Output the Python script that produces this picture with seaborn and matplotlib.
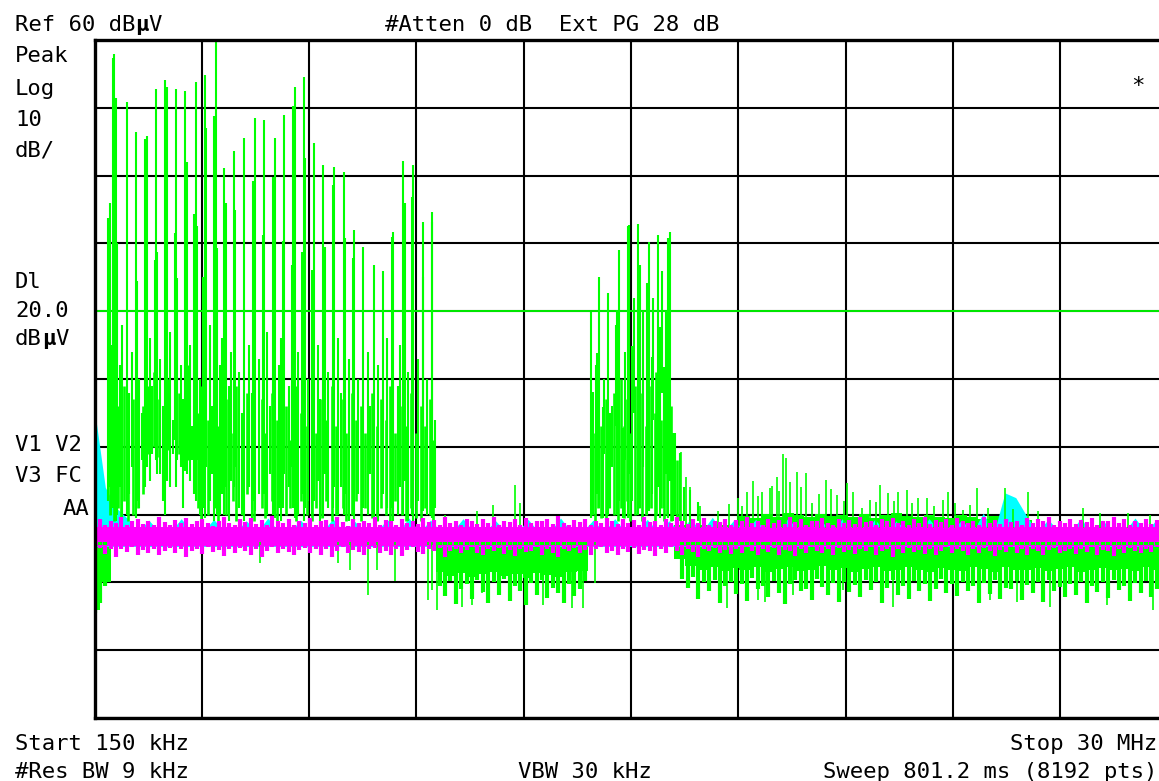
import matplotlib
matplotlib.use("Agg")
import matplotlib.pyplot as plt
import numpy as np
import seaborn as sns

# sweep settings
START_MHZ = 0.15
STOP_MHZ = 30.0
REF_DB = 60
BOTTOM_DB = -40
DL_DB = 20.0

# main harmonic spikes of the left cluster (MHz, top dBuV, bottom dBuV)
spike_freq = [0.656, 0.701, 0.748, 1.046, 1.305, 1.555, 1.602, 1.853, 2.111, 2.159,
              2.417, 2.668, 2.974, 3.224, 3.252, 3.474, 3.522, 3.761, 4.031, 4.317,
              4.615, 4.865, 5.171, 5.430, 5.681, 5.720, 5.970, 6.265, 6.515, 6.821,
              7.091, 7.378, 7.628, 7.926, 8.184, 8.454, 8.741, 9.019, 9.289, 9.547]
spike_top = [57.3, 58.0, 51.4, 50.9, 46.4, 45.4, 45.8, 52.7, 54.1, 53.0,
             52.7, 52.5, 53.8, 54.8, 47.0, 48.8, 60.0, 41.1, 43.7, 45.6,
             48.5, 48.2, 45.6, 49.0, 50.3, 53.0, 54.6, 44.8, 41.6, 41.2,
             40.5, 32.0, 29.5, 26.8, 26.0, 31.7, 42.1, 41.6, 33.1, 34.6]
spike_bot = [-9.0, -4.0, -11.0, -10.0, -10.5, -6.0, -3.0, -2.0, -10.0, -5.0,
             -6.0, -3.5, -8.0, -10.5, -3.0, -11.0, -9.0, -10.0, -6.0, -11.0,
             -9.5, -7.0, -10.5, -4.0, -9.0, -10.5, -11.0, -8.0, -10.5, -6.0,
             -10.0, -11.0, -9.0, -10.5, -7.0, -11.0, -10.0, -11.0, -9.5, -10.5]

# secondary lines next to each harmonic
second_freq = [0.534, 0.581, 0.768, 1.324, 1.833, 1.880, 2.390, 2.454, 2.715, 2.918,
               2.993, 3.160, 3.550, 3.808, 4.060, 4.568, 4.829, 5.124, 5.402, 5.653,
               6.006, 5.930, 6.193, 6.562, 6.793, 7.119, 7.350, 8.418, 8.788, 8.974,
               9.297, 9.531]
second_top = [33.7, 36.0, 30.1, 24.4, 27.6, 28.8, 31.5, 24.9, 42.0, 34.3,
              32.5, 25.1, 29.3, 35.9, 34.9, 39.2, 31.2, 39.8, 30.3, 26.8,
              42.6, 28.8, 26.1, 29.5, 38.6, 30.8, 27.8, 31.0, 36.0, 36.9,
              25.1, 33.2]
second_bot = [-8.0, -6.0, -10.0, -8.0, 0.0, -4.0, 1.0, -2.0, -4.0, -7.0,
              -2.0, -9.0, -10.0, -6.0, -3.0, -8.0, -5.0, -10.0, -9.0, -3.0,
              -9.0, -7.0, -10.0, -4.0, -9.0, -7.0, -3.0, -9.0, -5.0, -10.0,
              -6.0, -8.0]

# lines between harmonics, reaching up to the 0..20 dBuV band
low_freq = [0.62, 0.85, 0.92, 1.12, 1.18, 1.40, 1.46, 1.70, 1.76, 1.98,
            2.05, 2.25, 2.32, 2.55, 2.60, 2.80, 2.86, 3.08, 3.35, 3.42,
            3.64, 3.70, 3.90, 3.96, 4.18, 4.24, 4.45, 4.52, 4.72, 4.95,
            5.02, 5.28, 5.34, 5.55, 5.82, 6.10, 6.36, 6.42, 6.65, 6.92,
            7.00, 7.22, 7.48, 7.75, 7.82, 8.05, 8.30, 8.60, 8.66, 8.88,
            9.15, 9.40, 9.62]
low_top = [15, 12, 18, 8, 14, 10, 5, 16, 9, 13,
           6, 17, 4, 12, 7, 15, 3, 10, 18, 6,
           12, 16, 9, 14, 11, 5, 15, 8, 13, 17,
           6, 12, 16, 9, 14, 10, 15, 7, 11, 16,
           8, 13, 10, 14, 6, 12, 16, 9, 15, 11,
           13, 10, 4]
low_bot = [-10, -6, -11, -7, -3, -9, -2, -5, -1, -4,
           -8, -6, -1, -3, -9, -5, -2, -10, -8, -4,
           -10, -7, -11, -5, -9, -10, -6, -11, -7, -10,
           -4, -9, -11, -6, -10, -8, -5, -11, -9, -10,
           -6, -11, -7, -10, -4, -11, -9, -10, -6, -11,
           -8, -10, -9]

# short lines near the noise floor that make the dense lower body of both clusters
base_freq = [0.59, 0.68, 0.80, 0.88, 0.98, 1.08, 1.22, 1.35, 1.50, 1.65,
             1.80, 1.95, 2.20, 2.50, 2.75, 3.02, 3.12, 3.30, 3.48, 3.58,
             3.82, 4.00, 4.10, 4.28, 4.38, 4.60, 4.80, 4.90, 5.10, 5.22,
             5.48, 5.60, 5.76, 5.90, 6.05, 6.20, 6.30, 6.48, 6.58, 6.75,
             6.86, 7.05, 7.15, 7.30, 7.42, 7.55, 7.68, 7.88, 8.00, 8.12,
             8.25, 8.38, 8.52, 8.70, 8.82, 8.95, 9.08, 9.22, 9.35, 9.48,
             9.58, 13.98, 14.06, 14.16, 14.24, 14.38, 14.47, 14.60, 14.70, 14.80,
             14.89, 14.97, 15.06, 15.20, 15.30, 15.37, 15.48, 15.62, 15.74, 15.78,
             15.90, 16.00, 16.08, 16.20, 16.35]
base_top = [8, 4, 6, 2, 9, 3, 7, 1, 6, 9,
            11, 7, 10, 8, 12, 5, 9, 4, 8, 3,
            7, 2, 9, 4, 8, 3, 7, 2, 8, 4,
            6, 1, 9, 5, 3, 8, 2, 7, 4, 9,
            3, 7, 2, 8, 4, 6, 2, 8, 3, 7,
            4, 9, 2, 6, 3, 8, 2, 6, 3, 7,
            1, 6, 2, 9, 3, 7, 1, 8, 4, 10,
            3, 7, 2, 9, 4, 8, 3, 9, 5, 11,
            4, 8, 2, 6, -2]
base_bot = [-10, -11, -9, -10.5, -8, -11, -10, -9, -7, -1,
            0, -1.5, -0.5, -1, -2, -9, -11, -10, -9, -11,
            -10, -8, -11, -10, -7, -11, -9, -10.5, -8, -11,
            -10, -9, -11, -8, -10, -11, -9, -10.5, -8, -11,
            -10, -9, -11, -10, -8, -11, -9, -10.5, -11, -9,
            -10, -11, -8, -10, -11, -9, -10.5, -11, -9, -10,
            -11, -10, -11, -9, -10.5, -11, -9, -10, -11, -9,
            -10.5, -8, -11, -10, -9, -11, -10, -9, -11, -10,
            -9, -11, -10, -11, -11]

# middle cluster around 14-16 MHz
mid_freq = [13.954, 14.193, 14.444, 14.750, 15.000, 15.028, 15.278, 15.584, 15.835, 16.113,
            16.160, 14.026, 14.137, 14.287, 14.490, 14.694, 14.861, 15.095, 15.326, 15.529,
            15.652, 15.881, 15.993, 14.10, 14.33, 14.55, 14.65, 14.92, 15.15, 15.42,
            15.70, 15.95, 16.05, 16.235, 16.299, 16.438, 16.549, 16.716, 16.947]
mid_top = [19.9, 25.1, 22.7, 29.0, 32.5, 32.7, 32.9, 30.2, 31.2, 30.8,
           31.7, 8.1, 13.8, 5.9, 5.0, 20.2, 2.8, 14.8, 26.8, 24.2,
           13.3, 17.7, 11.8, 12.0, 10.0, 6.0, 18.0, 14.0, 22.0, 20.0,
           22.0, 26.0, 20.0, 2.0, 2.0, -0.9, -5.9, -6.4, -8.1]
mid_bot = [-10.5, -9.0, -10.0, -8.0, -10.5, -4.0, -10.0, -9.5, -6.0, -10.5,
           -5.0, -10.0, -7.0, -10.5, -9.0, -10.0, -10.5, -8.0, -9.0, -10.0,
           -7.0, -10.5, -9.0, -2.0, -1.0, -3.0, 3.0, -2.0, 5.0, -3.0,
           4.0, 8.0, -4.0, -11.0, -10.0, -11.0, -11.0, -11.0, -11.0]

# small green peaks sticking out of the noise floor
bump_freq = [9.90, 10.80, 11.236, 11.848, 11.987, 16.47, 16.60, 16.72, 16.99, 17.50,
             17.80, 18.05, 18.15, 18.29, 18.48, 18.60, 18.71, 18.94, 19.00, 19.13,
             19.20, 19.31, 19.39, 19.50, 19.68, 19.80, 19.94, 20.11, 20.30, 20.50,
             20.65, 20.80, 21.00, 21.08, 21.26, 21.49, 21.72, 21.90, 22.00, 22.23,
             22.40, 22.51, 22.75, 22.90, 23.07, 23.30, 23.50, 23.76, 23.90, 24.09,
             24.32, 24.50, 24.69, 25.00, 25.48, 25.70, 26.13, 26.40, 27.65, 28.12,
             28.90, 29.50]
bump_top = [-10.0, -9.5, -8.6, -5.6, -8.3, -0.7, -4.5, -5.9, -8.8, -9.5,
            -8.5, -7.5, -8.8, -6.6, -5.1, -7.2, -6.6, -6.1, -5.8, -4.4,
            -6.5, -1.0, -1.7, -5.2, -3.7, -6.0, -3.9, -8.3, -7.0, -4.9,
            -6.2, -7.1, -8.0, -5.4, -6.6, -9.0, -7.8, -8.2, -5.6, -6.8,
            -8.0, -6.6, -6.4, -8.3, -7.6, -7.5, -8.8, -7.8, -6.6, -8.3,
            -9.3, -8.6, -6.1, -9.0, -6.1, -9.2, -6.6, -9.5, -9.0, -9.8,
            -9.8, -10.0]

# deeper green dips below the noise floor
dip_freq = [4.753, 6.923, 7.258, 7.758, 8.009, 8.510, 9.428, 9.539, 9.678, 10.374,
            10.652, 10.930, 12.627, 13.434, 13.740, 14.074, 17.745, 18.608, 18.802, 19.581,
            20.972, 22.363, 22.836, 25.061, 25.813, 26.731, 28.317, 29.596]
dip_bot = [-17.1, -17.1, -18.2, -21.9, -18.2, -19.8, -22.6, -21.1, -24.1, -23.6,
           -23.3, -21.6, -23.3, -23.8, -23.8, -20.1, -23.8, -22.6, -22.9, -21.9,
           -21.1, -23.6, -22.3, -22.6, -22.9, -23.6, -23.3, -24.1]

# coarse envelopes, one value per sweep segment (100 segments)
cyan_hi = [5.5, -6.0, -9.0, -10.5, -12.6, -10.8, -12.6, -12.6, -10.6, -12.6,
           -12.6, -10.7, -12.6, -12.6, -10.9, -12.6, -10.5, -12.6, -12.6, -10.8,
           -12.6, -12.6, -10.6, -12.6, -11.0, -12.6, -12.6, -10.7, -12.6, -10.5,
           -12.6, -10.8, -12.6, -12.6, -10.6, -12.6, -12.6, -10.9, -12.6, -12.6,
           -10.7, -12.6, -12.6, -10.5, -12.6, -12.6, -10.8, -12.6, -10.6, -12.6,
           -12.6, -10.7, -12.6, -10.9, -12.6, -10.6, -12.6, -10.4, -12.6, -10.8,
           -12.6, -10.7, -12.6, -12.6, -10.5, -12.6, -12.6, -10.8, -12.6, -10.6,
           -12.6, -12.6, -10.7, -12.6, -10.9, -12.6, -12.6, -10.6, -12.6, -12.6,
           -10.8, -12.6, -9.8, -12.6, -6.8, -7.5, -10.2, -12.6, -10.7, -12.6,
           -12.6, -10.6, -12.6, -10.8, -12.6, -12.6, -10.5, -12.6, -10.7, -12.6]
green_hi = [-13.0, -13.0, -13.0, -13.0, -13.0, -13.0, -13.0, -13.0, -13.0, -13.0,
            -13.0, -13.0, -13.0, -13.0, -13.0, -13.0, -13.0, -13.0, -13.0, -13.0,
            -13.0, -13.0, -13.0, -13.0, -13.0, -13.0, -13.0, -13.0, -13.0, -13.0,
            -13.0, -13.0, -12.5, -12.5, -12.5, -12.5, -12.5, -12.5, -12.5, -12.5,
            -12.5, -12.5, -12.5, -12.5, -12.5, -12.5, -13.0, -13.0, -13.0, -13.0,
            -13.0, -13.0, -13.0, -13.0, -11.5, -11.5, -11.5, -11.5, -11.5, -11.5,
            -10.2, -10.5, -9.9, -10.3, -9.8, -10.1, -10.4, -9.9, -10.2, -10.0,
            -10.3, -9.9, -10.5, -10.1, -9.8, -10.2, -10.4, -10.0, -10.3, -10.5,
            -10.1, -10.3, -10.6, -10.2, -10.4, -10.5, -10.8, -11.8, -11.8, -11.8,
            -11.8, -11.8, -11.8, -11.8, -11.8, -11.8, -11.8, -11.8, -11.8, -11.8]
green_lo = [-24.0, -20.0, -13.5, -13.5, -13.5, -13.5, -13.5, -13.5, -13.5, -13.5,
            -13.5, -13.5, -13.5, -13.5, -13.5, -13.5, -13.5, -13.5, -13.5, -13.5,
            -13.5, -13.5, -13.5, -13.5, -13.5, -13.5, -13.5, -13.5, -13.5, -13.5,
            -13.5, -13.5, -18.4, -19.0, -18.6, -19.2, -18.8, -18.5, -19.1, -18.7,
            -19.3, -18.6, -18.9, -19.2, -18.5, -18.3, -13.5, -13.5, -13.5, -13.5,
            -13.5, -13.5, -13.5, -13.5, -16.5, -17.6, -18.1, -17.8, -18.3, -17.9,
            -18.2, -17.7, -18.4, -18.0, -17.8, -18.3, -18.1, -17.6, -18.2, -17.9,
            -18.4, -18.0, -17.7, -18.3, -18.1, -17.8, -18.2, -18.5, -17.9, -18.1,
            -18.3, -17.8, -18.0, -18.4, -17.7, -18.2, -18.1, -17.9, -18.3, -18.0,
            -17.8, -18.4, -18.1, -17.9, -18.2, -18.0, -18.3, -17.8, -18.1, -18.2]

# fine detail, one value per half segment (200 points)
magenta_top = [-11.2, -10.6, -11.5, -10.9, -11.3, -10.4, -11.6, -11.0, -10.7, -11.4,
               -10.9, -11.5, -10.3, -11.1, -11.6, -10.8, -11.2, -10.5, -11.4, -11.0,
               -10.6, -11.3, -11.7, -10.9, -10.4, -11.2, -11.5, -10.7, -11.1, -10.5,
               -11.4, -10.8, -11.6, -10.2, -11.0, -11.3, -10.7, -11.5, -10.9, -11.2,
               -10.5, -11.6, -11.0, -10.8, -11.4, -10.3, -11.1, -11.7, -10.6, -11.3,
               -10.9, -11.2, -10.4, -11.5, -10.8, -11.0, -11.6, -10.6, -11.3, -10.9,
               -11.4, -10.5, -11.1, -10.8, -11.6, -10.3, -11.2, -10.9, -11.5, -10.7,
               -11.0, -11.4, -10.6, -11.2, -10.4, -11.5, -10.9, -11.1, -10.7, -11.6,
               -10.5, -11.3, -10.9, -11.0, -10.6, -11.4, -10.2, -11.2, -11.5, -10.8,
               -11.1, -10.6, -11.6, -10.9, -11.3, -10.5, -11.0, -11.4, -10.7, -11.2,
               -10.8, -11.5, -10.4, -11.1, -10.9, -11.6, -10.6, -11.3, -10.3, -11.0,
               -11.4, -10.7, -11.2, -10.5, -11.5, -10.9, -11.1, -10.6, -11.6, -10.8,
               -11.0, -10.4, -11.3, -10.9, -11.5, -10.6, -11.2, -10.8, -11.4, -10.3,
               -11.1, -10.7, -11.6, -10.9, -11.0, -10.5, -11.3, -11.5, -10.6, -11.2,
               -10.8, -11.4, -10.4, -11.1, -10.9, -11.6, -10.7, -11.0, -10.5, -11.3,
               -10.9, -11.5, -10.6, -11.2, -10.3, -11.4, -10.8, -11.1, -10.7, -11.6,
               -10.5, -11.0, -11.3, -10.9, -11.5, -10.4, -11.2, -10.8, -11.4, -10.6,
               -11.1, -10.9, -11.6, -10.5, -11.3, -10.7, -11.0, -10.3, -11.5, -10.9,
               -11.2, -10.6, -11.4, -10.8, -11.1, -10.5, -11.6, -10.9, -11.0, -10.4,
               -11.3, -10.7, -11.5, -10.9, -11.2, -10.6, -11.4, -10.8, -11.1, -10.5]
magenta_bottom = [-15.3, -14.9, -15.8, -15.1, -16.2, -15.0, -15.5, -14.8, -15.9, -15.2,
                  -15.6, -15.0, -16.0, -15.3, -14.9, -15.7, -15.1, -16.3, -15.4, -15.0,
                  -15.8, -14.8, -15.5, -15.2, -16.1, -15.0, -15.6, -14.9, -15.4, -15.9,
                  -15.1, -16.2, -15.3, -14.8, -15.7, -15.0, -15.5, -16.0, -15.2, -14.9,
                  -15.6, -15.1, -15.9, -15.0, -16.3, -15.4, -14.8, -15.7, -15.2, -15.5,
                  -16.0, -15.1, -14.9, -15.6, -15.3, -15.9, -15.0, -16.1, -15.2, -14.8,
                  -15.5, -15.8, -15.1, -15.4, -14.9, -16.2, -15.3, -15.0, -15.7, -15.2,
                  -14.8, -15.6, -16.0, -15.1, -15.4, -14.9, -15.8, -15.2, -16.1, -15.0,
                  -15.5, -15.3, -14.8, -15.9, -15.1, -15.6, -16.2, -15.0, -15.4, -14.9,
                  -15.7, -15.2, -15.9, -15.0, -14.8, -15.6, -15.3, -16.0, -15.1, -15.5,
                  -14.9, -15.8, -15.2, -15.4, -16.1, -15.0, -15.6, -14.8, -15.3, -15.9,
                  -15.1, -15.5, -16.2, -15.0, -15.4, -14.9, -15.7, -15.2, -15.8, -15.0,
                  -15.6, -14.8, -15.3, -16.0, -15.1, -15.5, -14.9, -15.9, -15.2, -15.4,
                  -16.1, -15.0, -15.7, -14.8, -15.3, -15.6, -15.1, -16.0, -14.9, -15.5,
                  -15.2, -15.8, -15.0, -15.4, -14.8, -15.9, -15.3, -15.1, -16.2, -15.0,
                  -15.6, -14.9, -15.5, -15.2, -15.8, -15.0, -16.0, -15.3, -14.8, -15.7,
                  -15.1, -15.4, -15.9, -15.0, -15.6, -14.9, -15.3, -16.1, -15.2, -15.5,
                  -14.8, -15.7, -15.1, -15.9, -15.0, -15.4, -16.0, -15.2, -14.9, -15.6,
                  -15.3, -15.0, -15.8, -15.1, -15.5, -14.8, -15.9, -15.2, -15.4, -16.1,
                  -15.0, -15.6, -14.9, -15.3, -15.7, -15.1, -15.5, -14.8, -15.2, -15.4]
green_bottom = [-24.5, -23.0, -20.5, -14.0, -14.0, -14.0, -14.0, -14.0, -14.0, -14.0,
                -14.0, -14.0, -14.0, -14.0, -14.0, -14.0, -14.0, -14.0, -14.0, -14.0,
                -14.0, -14.0, -14.0, -14.0, -14.0, -14.0, -14.0, -14.0, -14.0, -14.0,
                -14.0, -14.0, -14.0, -14.0, -14.0, -14.0, -14.0, -14.0, -14.0, -14.0,
                -14.0, -14.0, -14.0, -14.0, -14.0, -14.0, -14.0, -14.0, -14.0, -14.0,
                -14.0, -14.0, -14.0, -14.0, -14.0, -14.0, -14.0, -14.0, -14.0, -14.0,
                -14.0, -14.0, -14.0, -14.0, -20.5, -22.0, -19.8, -23.2, -21.0, -20.2,
                -22.5, -19.6, -21.4, -23.0, -20.0, -21.8, -19.5, -22.7, -20.6, -21.2,
                -23.4, -20.1, -21.9, -19.7, -22.3, -20.8, -21.5, -23.1, -20.3, -22.0,
                -21.0, -19.8, -14.0, -14.0, -14.0, -14.0, -14.0, -14.0, -14.0, -14.0,
                -14.0, -14.0, -14.0, -14.0, -14.0, -14.0, -14.0, -14.0, -14.0, -19.5,
                -20.8, -19.2, -22.4, -20.0, -21.3, -19.6, -23.0, -20.5, -19.9, -21.7,
                -20.2, -22.8, -19.4, -21.0, -20.6, -22.1, -19.8, -21.5, -23.2, -20.3,
                -19.7, -21.2, -20.9, -22.6, -19.5, -20.7, -21.8, -20.1, -22.9, -19.9,
                -21.4, -20.4, -22.2, -19.6, -21.1, -20.0, -23.0, -20.8, -19.7, -21.9,
                -20.5, -22.5, -19.8, -21.3, -20.2, -22.7, -20.9, -19.5, -21.6, -20.3,
                -22.0, -19.9, -21.2, -20.6, -23.1, -20.1, -21.7, -19.6, -22.4, -20.8,
                -21.0, -19.8, -22.6, -20.4, -21.5, -20.0, -22.9, -19.7, -21.3, -20.7,
                -22.1, -20.2, -21.8, -19.9, -23.0, -20.5, -21.4, -20.0, -22.3, -19.6,
                -21.1, -20.6, -22.7, -20.1, -21.6, -19.8, -22.2, -20.9, -21.0, -20.4]

GREEN = "#00ff00"
CYAN = "#00ffff"
MAGENTA = "#ff00ff"
FLOOR_DB = -12.0
MAG_CORE = (-14.7, -11.9)
LW = 1.5
NOISE_LW = 3.0

sns.set_style("white")
plt.rcParams["font.family"] = ["DejaVu Sans Mono"]

W, H = 1159, 781
fig = plt.figure(figsize=(W / 100, H / 100), dpi=100)
fig.patch.set_facecolor("white")
# the right edge of the screen grid falls just outside the picture
ax = fig.add_axes([94.5 / W, 1 - 718 / H, 1073 / W, 678 / H])

sweep = np.linspace(START_MHZ, STOP_MHZ, len(green_hi))
sweep_fine = np.linspace(START_MHZ, STOP_MHZ, len(magenta_top))

# green trace
ax.fill_between(sweep, green_lo, green_hi, color=GREEN, lw=0, step="mid")
ax.vlines(sweep_fine, green_bottom, FLOOR_DB - 2, color=GREEN, lw=NOISE_LW)
ax.vlines(spike_freq, spike_bot, spike_top, color=GREEN, lw=LW)
ax.vlines(second_freq, second_bot, second_top, color=GREEN, lw=LW)
ax.vlines(low_freq, low_bot, low_top, color=GREEN, lw=LW)
ax.vlines(base_freq, base_bot, base_top, color=GREEN, lw=LW + 0.4)
ax.vlines(mid_freq, mid_bot, mid_top, color=GREEN, lw=LW)
ax.vlines(bump_freq, FLOOR_DB, bump_top, color=GREEN, lw=1.2)
ax.vlines(dip_freq, dip_bot, FLOOR_DB - 2, color=GREEN, lw=1.2)
sns.lineplot(x=[START_MHZ, STOP_MHZ], y=[DL_DB, DL_DB], color=GREEN, lw=1.3, ax=ax)

# cyan trace, mostly hidden behind magenta
ax.fill_between(sweep, MAG_CORE[0], cyan_hi, color=CYAN, lw=0)

# magenta trace: solid core plus noise spikes on both edges
ax.fill_between([START_MHZ, STOP_MHZ], MAG_CORE[0], MAG_CORE[1], color=MAGENTA, lw=0)
ax.vlines(sweep_fine, MAG_CORE[1] - 0.2, magenta_top, color=MAGENTA, lw=NOISE_LW)
ax.vlines(sweep_fine, magenta_bottom, MAG_CORE[0] + 0.2, color=MAGENTA, lw=NOISE_LW)

ax.set_xlim(START_MHZ, STOP_MHZ)
ax.set_ylim(BOTTOM_DB, REF_DB)
ax.set_xticks(np.linspace(START_MHZ, STOP_MHZ, 11))
ax.set_yticks(np.arange(BOTTOM_DB, REF_DB + 1, 10))
ax.tick_params(length=0, labelbottom=False, labelleft=False)
ax.set_axisbelow(True)
ax.grid(True, color="black", lw=1.5)
ax.set_xlabel("")
ax.set_ylabel("")
for side in ["left", "top", "bottom"]:
    ax.spines[side].set_color("black")
    ax.spines[side].set_linewidth(2.4)
ax.spines["right"].set_visible(False)

CHAR_W = 0.6021 * 16 * 100 / 72  # advance of one monospace character, px


def label(x, y, s, ha="left", weight="normal"):
    fig.text(x / W, 1 - y / H, s, ha=ha, va="baseline", fontsize=16,
             color="black", fontweight=weight)


def unit(x, y, prefix):
    # "dBµV" with a bold micro sign, as on the analyser screen
    label(x, y, prefix + "dB")
    n = len(prefix) + 2
    label(x + n * CHAR_W, y, "\u00b5", weight="bold")
    label(x + (n + 1) * CHAR_W, y, "V")


unit(15, 31, "Ref 60 ")
label(385, 31, "#Atten 0 dB  Ext PG 28 dB")
label(15, 62, "Peak")
label(15, 95, "Log")
label(15, 126, "10")
label(15, 157, "dB/")
label(15, 288, "Dl")
label(15, 317, "20.0")
unit(15, 345, "")
label(15, 451, "V1 V2")
label(15, 482, "V3 FC")
label(89, 515, "AA", ha="right")
label(1145, 92, "*", ha="right")
label(15, 750, "Start 150 kHz")
label(1157, 750, "Stop 30 MHz", ha="right")
label(15, 778, "#Res BW 9 kHz")
label(518, 778, "VBW 30 kHz")
label(1157, 778, "Sweep 801.2 ms (8192 pts)", ha="right")

fig.savefig("out.png", dpi=100)
